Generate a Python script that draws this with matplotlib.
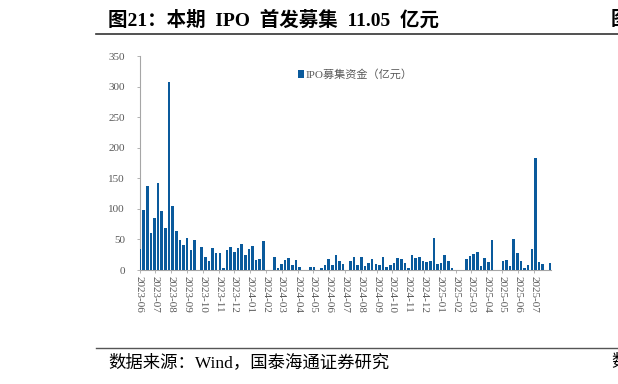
import matplotlib
matplotlib.use("Agg")
import matplotlib.pyplot as plt
import matplotlib.dates as mdates
import pandas as pd

# ------------------------------------------------
#  Datos (lectura aproximada del gráfico)
# ------------------------------------------------
start_week = "2023-06-02"

ipo_values = [
    35, 98, 137, 60, 85, 143, 96, 68, 307, 105,
    63, 49, 41, 52, 32, 49, 0, 37, 22, 14,
    36, 28, 27, 3, 33, 38, 29, 36, 42, 25,
    35, 40, 17, 18, 48, 0, 0, 21, 3, 10,
    16, 19, 8, 17, 5, 0, 0, 5, 5, 0,
    3, 8, 18, 8, 24, 15, 9, 0, 15, 21,
    8, 22, 7, 11, 18, 9, 8, 22, 5, 8,
    11, 20, 18, 11, 4, 24, 19, 21, 14, 13,
    15, 52, 10, 11, 25, 14, 3, 0, 0, 0,
    18, 23, 26, 29, 6, 19, 13, 49, 0, 0,
    14.7, 17, 7, 51, 27, 14, 4, 8, 34, 183,
    12.5, 10, 0, 11.05,
]

weeks = pd.date_range(start_week, periods=len(ipo_values), freq="7D")
month_ticks = pd.date_range("2023-06-01", "2025-07-01", freq="MS")
y_ticks = [0, 50, 100, 150, 200, 250, 300, 350]

title_text = "图21：本期  IPO  首发募集  11.05  亿元"
source_text = "数据来源：Wind，国泰海通证券研究"
legend_text = "IPO募集资金（亿元）"

BAR_COLOR = "#0A5A9C"
GREY = "#595959"
MIXED = ["Liberation Serif", "Noto Sans CJK SC"]

# ------------------------------------------------
#  Figura
# ------------------------------------------------
fig = plt.figure(figsize=(6.18, 3.84), dpi=100)
ax = fig.add_axes([139.5 / 618, 114 / 384, 411.5 / 618, 214 / 384])

bars = ax.bar(weeks, ipo_values, width=5, color=BAR_COLOR,
              label=legend_text, zorder=3)

ax.set_xlim(pd.Timestamp("2023-06-01"), pd.Timestamp("2025-08-03"))
ax.set_ylim(0, 350)
ax.set_yticks(y_ticks)
ax.set_xticks(month_ticks)
ax.xaxis.set_major_formatter(mdates.DateFormatter("%Y-%m"))

for lab in ax.get_xticklabels():
    lab.set_rotation(270)
    lab.set_fontfamily("Liberation Serif")
    lab.set_fontsize(8)
    lab.set_color(GREY)
for lab in ax.get_yticklabels():
    lab.set_fontfamily("Liberation Serif")
    lab.set_fontsize(8)
    lab.set_color(GREY)

ax.tick_params(axis="x", length=2.5, width=0.6, color="#A6A6A6", pad=2)
ax.tick_params(axis="y", length=2.5, width=0.6, color="#A6A6A6", pad=8)

for side in ["top", "right"]:
    ax.spines[side].set_visible(False)
for side in ["left", "bottom"]:
    ax.spines[side].set_color("#A6A6A6")
    ax.spines[side].set_linewidth(0.8)

leg = ax.legend(loc="upper left", bbox_to_anchor=(0.36, 0.985), frameon=False,
                handlelength=0.55, handleheight=0.6, handletextpad=0.15,
                prop={"family": MIXED, "size": 8})
for t in leg.get_texts():
    t.set_color(GREY)

# ------------------------------------------------
#  Título, líneas y fuente
# ------------------------------------------------
fig.text(108 / 618, 1 - 20 / 384, title_text, fontsize=14,
         fontweight="bold", family=MIXED, va="center", ha="left")
fig.text(611 / 618, 1 - 20 / 384, "图", fontsize=14,
         fontweight="bold", family=MIXED, va="center", ha="left")
fig.add_artist(plt.Line2D([96 / 618, 1], [1 - 34 / 384] * 2,
                          color="#333333", linewidth=1.2))
fig.add_artist(plt.Line2D([96 / 618, 1], [1 - 348 / 384] * 2,
                          color="#555555", linewidth=1.0))
fig.text(108 / 618, 1 - 363 / 384, source_text, fontsize=12.5,
         family=MIXED, va="center", ha="left")
fig.text(611 / 618, 1 - 363 / 384, "数", fontsize=12.5,
         family=MIXED, va="center", ha="left")

fig.savefig("out.png", dpi=100)
plt.close(fig)
